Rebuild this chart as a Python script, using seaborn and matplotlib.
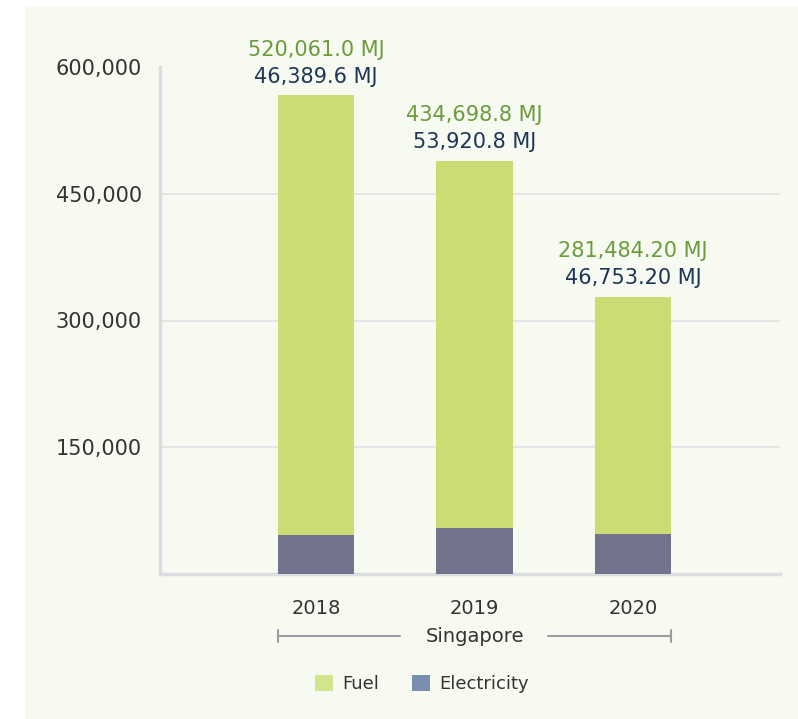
import matplotlib
matplotlib.use("Agg")
import matplotlib.pyplot as plt
from matplotlib.patches import Rectangle, Patch
from matplotlib.lines import Line2D
import matplotlib.transforms as mtransforms
import seaborn as sns
import pandas as pd

# ---- data ----
years = ["2018", "2019", "2020"]
fuel = [520061.0, 434698.8, 281484.20]
electricity = [46389.6, 53920.8, 46753.20]
fuel_labels = ["520,061.0 MJ", "434,698.8 MJ", "281,484.20 MJ"]
elec_labels = ["46,389.6 MJ", "53,920.8 MJ", "46,753.20 MJ"]
group_label = "Singapore"
y_ticks = [150000, 300000, 450000, 600000]
y_tick_labels = ["150,000", "300,000", "450,000", "600,000"]
series_names = ["Fuel", "Electricity"]

# ---- style ----
BG = "#f7faf1"
FUEL_C = "#cbdc74"
ELEC_C = "#72738c"
FUEL_LEG = "#d3e48f"
ELEC_LEG = "#7a8fb0"
GREEN_TXT = "#6a9c3c"
NAVY_TXT = "#1e3558"
TXT = "#333333"
GRID = "#e0e1e3"

sns.set_theme(style="white")
plt.rcParams["font.family"] = ["DejaVu Sans"]

df = pd.DataFrame({"year": years, "fuel": fuel, "electricity": electricity})
df["total"] = df["fuel"] + df["electricity"]

W, H = 798, 719
fig = plt.figure(figsize=(W / 100, H / 100), dpi=100, facecolor="white")
fig.patches.append(Rectangle((25 / W, 0), 1 - 25 / W, 1 - 6 / H,
                             transform=fig.transFigure, facecolor=BG,
                             edgecolor="none", zorder=-10))
ax = fig.add_axes([160 / W, 1 - 574 / H, (780 - 160) / W, (574 - 67) / H])
ax.set_facecolor("none")
ax.set_zorder(1)

sns.barplot(data=df, x="year", y="total", color=FUEL_C, saturation=1,
            width=0.48, ax=ax, zorder=3, linewidth=0)
sns.barplot(data=df, x="year", y="electricity", color=ELEC_C, saturation=1,
            width=0.48, ax=ax, zorder=3, linewidth=0)

ax.set_ylim(0, 600000)
ax.set_xlim(-0.984, 2.927)
ax.set_yticks(y_ticks)
ax.set_yticklabels(y_tick_labels)
ax.set_xlabel("")
ax.set_ylabel("")
ax.grid(axis="y", color=GRID, linewidth=1.2, zorder=0)
ax.set_axisbelow(True)
gls = ax.yaxis.get_gridlines()
gls[-1].set_visible(False)
for s in ["top", "right"]:
    ax.spines[s].set_visible(False)
for s in ["left", "bottom"]:
    ax.spines[s].set_color("#dcdde0")
    ax.spines[s].set_linewidth(2.5)
ax.tick_params(axis="y", length=0, pad=13, labelsize=15, labelcolor=TXT)
ax.tick_params(axis="x", length=0, pad=18, labelsize=14, labelcolor=TXT)

# value labels
for i, (tot, fl, el) in enumerate(zip(df["total"], fuel_labels, elec_labels)):
    ax.annotate(el, (i, tot), xytext=(0, 13.5), textcoords="offset points",
                ha="center", va="center", fontsize=15, color=NAVY_TXT)
    ax.annotate(fl, (i, tot), xytext=(0, 33), textcoords="offset points",
                ha="center", va="center", fontsize=15, color=GREEN_TXT)

# group bracket
trans = mtransforms.blended_transform_factory(ax.transData, ax.transAxes)
yb = -(636 - 574) / (574 - 67)
cap = 6 / (574 - 67)
x0, x1 = -0.24, 2.24
gap0, gap1 = 0.53, 1.465
for xa, xb in [(x0, gap0), (gap1, x1)]:
    ax.add_line(Line2D([xa, xb], [yb, yb], transform=trans, color="#9c9d9f",
                       linewidth=1.5, clip_on=False))
for xc in [x0, x1]:
    ax.add_line(Line2D([xc, xc], [yb - cap, yb + cap], transform=trans,
                       color="#9c9d9f", linewidth=1.5, clip_on=False))
ax.text(1, yb, group_label, transform=trans, ha="center", va="center",
        fontsize=14, color=TXT)

# legend
handles = [Patch(facecolor=FUEL_LEG, edgecolor="none", label=series_names[0]),
           Patch(facecolor=ELEC_LEG, edgecolor="none", label=series_names[1])]
leg = fig.legend(handles=handles, loc="center", ncol=2,
                 bbox_to_anchor=(422 / W, 1 - 684 / H), frameon=False,
                 fontsize=13, handlelength=1.0, handleheight=1.0,
                 handletextpad=0.5, columnspacing=1.8)
for t in leg.get_texts():
    t.set_color(TXT)

fig.savefig("out.png", dpi=100, facecolor="white")
